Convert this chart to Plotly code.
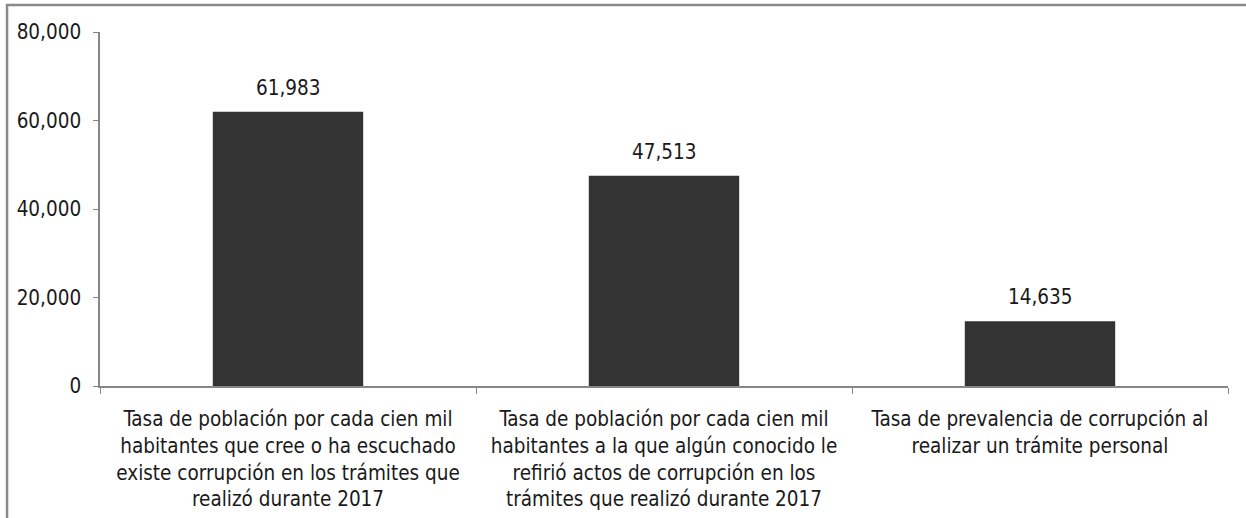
import plotly.graph_objects as go

categories = [
    "Tasa de población por cada cien mil<br>habitantes que cree o ha escuchado<br>existe corrupción en los trámites que<br>realizó durante 2017",
    "Tasa de población por cada cien mil<br>habitantes a la que algún conocido le<br>refirió actos de corrupción en los<br>trámites que realizó durante 2017",
    "Tasa de prevalencia de corrupción al<br>realizar un trámite personal",
]
values = [61983, 47513, 14635]
y_ticks = [0, 20000, 40000, 60000, 80000]

font_family = "DejaVu Sans Condensed, Liberation Sans, sans-serif"
axis_color = "#868686"
text_color = "#1a1a1a"
fsize = 20.5

fig = go.Figure()
fig.add_trace(go.Bar(
    x=categories, y=values,
    marker=dict(color="#333333", line=dict(width=0)),
    hoverinfo="skip",
))

# value labels above bars
for c, v in zip(categories, values):
    fig.add_annotation(x=c, y=v, text=f"{v:,}", showarrow=False,
                       yanchor="bottom", yshift=10,
                       font=dict(family=font_family, size=fsize, color=text_color))

# outer frame (chart area border, cropped on right/bottom)
fig.add_shape(type="path", xref="paper", yref="paper",
              path="M -0.0824,-2 L -0.0824,1.0763 L 2,1.0763",
              line=dict(color="#8a8a8a", width=2.5))

fig.update_layout(
    width=1246, height=518,
    margin=dict(l=100, r=18, t=32, b=132),
    paper_bgcolor="white", plot_bgcolor="white",
    bargap=0.6,
    showlegend=False,
    font=dict(family=font_family, size=fsize, color=text_color),
)
fig.update_xaxes(
    showline=True, linecolor=axis_color, linewidth=1.5,
    ticks="outside", tickson="boundaries", ticklen=6, tickcolor=axis_color,
    showgrid=False, tickangle=0, ticklabelstandoff=14, automargin=False,
    tickfont=dict(family=font_family, size=fsize, color=text_color),
)
fig.update_yaxes(
    range=[0, 80000], tickvals=y_ticks, tickformat=",",
    showline=True, linecolor=axis_color, linewidth=1.5,
    ticks="outside", ticklen=5, tickcolor=axis_color,
    showgrid=False, zeroline=False, ticklabelstandoff=8, automargin=False,
    tickfont=dict(family=font_family, size=fsize, color=text_color),
)

fig.write_html("out.html", config={"displayModeBar": False},
               post_script="document.body.style.margin='0';")
